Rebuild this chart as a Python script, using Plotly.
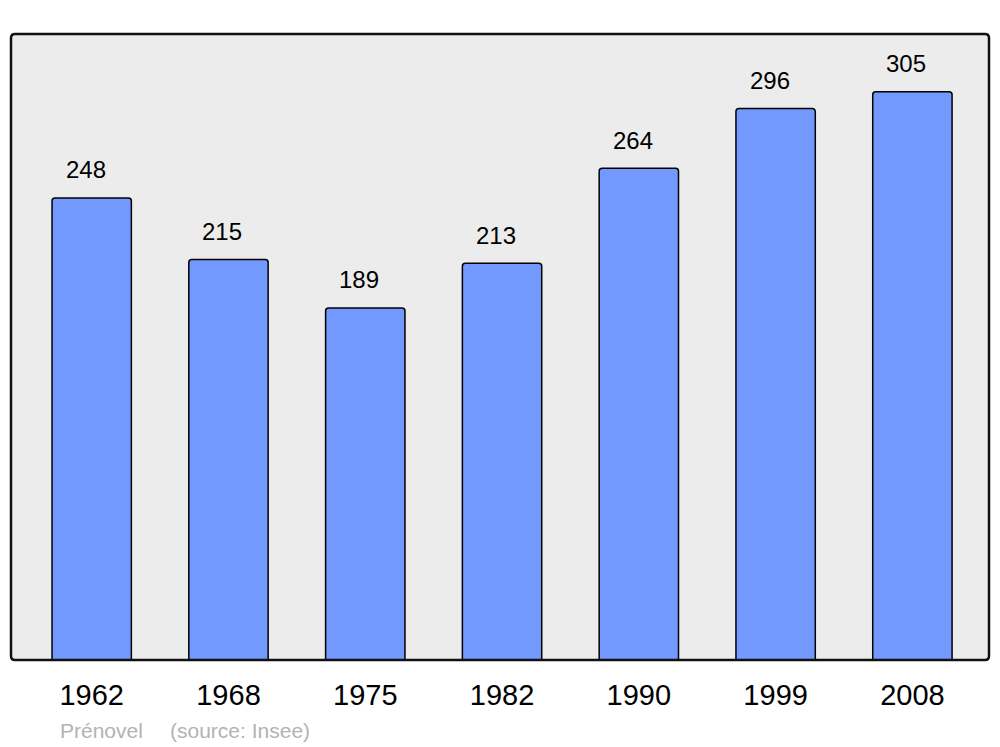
import plotly.graph_objects as go

years = ["1962", "1968", "1975", "1982", "1990", "1999", "2008"]
population = [248, 215, 189, 213, 264, 296, 305]

FONT = "Liberation Sans, Arial, sans-serif"

# page is offset by the browser body margin (8px); figure sized to fit
W, H = 984, 736
PL, PR, PT, PB = 3, 981, 26, 652   # plot area in figure pixels
pw, ph = PR - PL, PB - PT

fig = go.Figure()
fig.add_trace(go.Bar(
    x=list(range(len(years))), y=population, width=0.58,
    marker=dict(color="#7399ff", line=dict(color="#000000", width=1.5), cornerradius=3),
    hoverinfo="y",
))

for i, v in enumerate(population):
    fig.add_annotation(x=i, y=v, text=str(v), showarrow=False, yanchor="middle",
                       yshift=28, xshift=-6, font=dict(family=FONT, size=24, color="#000000"))

rx, ry = 4 / pw, 4 / ph
path = (f"M {rx},0 L {1-rx},0 Q 1,0 1,{ry} L 1,{1-ry} Q 1,1 {1-rx},1 "
        f"L {rx},1 Q 0,1 0,{1-ry} L 0,{ry} Q 0,0 {rx},0 Z")
fig.add_shape(type="path", path=path, xref="paper", yref="paper",
              line=dict(color="#111111", width=2.5), layer="above")

fy = (652 - 722) / ph
fig.add_annotation(x=(50 - PL) / pw, y=fy, xref="paper", yref="paper",
                   text="Prénovel", showarrow=False, xanchor="left", yanchor="middle",
                   font=dict(family=FONT, size=21, color="#b3b3b3"))
fig.add_annotation(x=(160 - PL) / pw, y=fy, xref="paper", yref="paper",
                   text="(source: Insee)", showarrow=False, xanchor="left", yanchor="middle",
                   font=dict(family=FONT, size=21, color="#b3b3b3"))

fig.update_layout(
    width=W, height=H,
    margin=dict(l=PL, r=W - PR, t=PT, b=H - PB, pad=0),
    paper_bgcolor="#ffffff", plot_bgcolor="#ececec",
    showlegend=False,
    font=dict(family=FONT, color="#000000"),
    xaxis=dict(range=[-0.59, 6.56], showgrid=False, zeroline=False,
               showline=False, ticks="outside", ticklen=9, tickcolor="rgba(0,0,0,0)",
               tickmode="array", tickvals=list(range(len(years))), ticktext=years,
               tickfont=dict(family=FONT, size=29, color="#000000")),
    yaxis=dict(range=[0, 336], showgrid=False, zeroline=False, showline=False,
               showticklabels=False, ticks=""),
)

fig.write_html("out.html")
